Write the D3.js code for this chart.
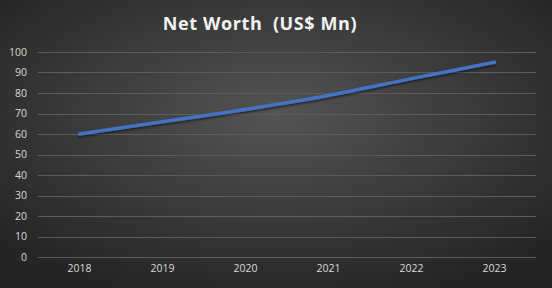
<!DOCTYPE html>
<html>
<head>
<meta charset="utf-8">
<script src="https://cdn.jsdelivr.net/npm/d3@7"></script>
<style>
  html, body { margin: 0; padding: 0; background: #333; }
  svg { display: block; }
</style>
</head>
<body>
<div id="chart"></div>
<script>
var years = ['2018', '2019', '2020', '2021', '2022', '2023'];
var netWorth = [60, 66, 72, 78.8, 87, 95];
var yTicks = [0, 10, 20, 30, 40, 50, 60, 70, 80, 90, 100];
var title = 'Net Worth\u00a0 (US$ Mn)';

var W = 552, H = 288;
var margin = { top: 52, right: 16, bottom: 31, left: 38 };
var width = W - margin.left - margin.right,
    height = H - margin.top - margin.bottom;

var svg = d3.select('#chart').append('svg')
    .attr('width', W)
    .attr('height', H);

var defs = svg.append('defs');
var grad = defs.append('radialGradient')
    .attr('id', 'bg')
    .attr('cx', '50%').attr('cy', '40%')
    .attr('r', '65%');
grad.append('stop').attr('offset', '0%').attr('stop-color', '#545454');
grad.append('stop').attr('offset', '100%').attr('stop-color', '#252525');

var shadow = defs.append('filter').attr('id', 'shadow')
    .attr('x', '-5%').attr('y', '-20%').attr('width', '110%').attr('height', '140%');
shadow.append('feDropShadow')
    .attr('dx', 0).attr('dy', 1.5).attr('stdDeviation', 1.2)
    .attr('flood-color', '#000').attr('flood-opacity', 0.6);

svg.append('rect')
    .attr('width', W).attr('height', H)
    .attr('fill', 'url(#bg)');

svg.append('text')
    .attr('x', 260)
    .attr('y', 30)
    .attr('text-anchor', 'middle')
    .style('font-family', 'Open Sans, sans-serif')
    .style('font-weight', 'bold')
    .style('font-size', '18px')
    .style('letter-spacing', '0.6px')
    .style('fill', '#f2f2f2')
    .text(title);

var g = svg.append('g')
    .attr('transform', 'translate(' + margin.left + ',' + margin.top + ')');

var x = d3.scaleBand().domain(years).range([0, width]);
var y = d3.scaleLinear().domain([0, 100]).range([height, 0]);

// gridlines
g.append('g')
    .selectAll('line')
    .data(yTicks)
    .enter()
    .append('line')
    .attr('x1', 0)
    .attr('x2', width)
    .attr('y1', function(d) { return Math.round(y(d)) + 0.5; })
    .attr('y2', function(d) { return Math.round(y(d)) + 0.5; })
    .attr('stroke', '#5c5c5c')
    .attr('stroke-width', 1);

// y axis
var yAxis = d3.axisLeft(y).tickValues(yTicks).tickSize(0).tickPadding(11);
var yG = g.append('g').call(yAxis);
yG.select('.domain').remove();
yG.selectAll('text')
    .style('font-family', 'Open Sans, sans-serif')
    .style('font-size', '10.5px')
    .style('fill', '#d9d9d9');

// x axis
var xAxis = d3.axisBottom(x).tickSize(0).tickPadding(8);
var xG = g.append('g')
    .attr('transform', 'translate(0,' + height + ')')
    .call(xAxis);
xG.select('.domain').remove();
xG.selectAll('text')
    .style('font-family', 'Open Sans, sans-serif')
    .style('font-size', '10.5px')
    .style('fill', '#d9d9d9');

// line
var line = d3.line()
    .x(function(d, i) { return x(years[i]) + x.bandwidth() / 2; })
    .y(function(d) { return y(d); })
    .curve(d3.curveCatmullRom.alpha(0.5));

g.append('path')
    .datum(netWorth)
    .attr('d', line)
    .attr('fill', 'none')
    .attr('stroke', '#4472c4')
    .attr('stroke-width', 3.5)
    .attr('stroke-linecap', 'round')
    .attr('filter', 'url(#shadow)');
</script>
</body>
</html>
